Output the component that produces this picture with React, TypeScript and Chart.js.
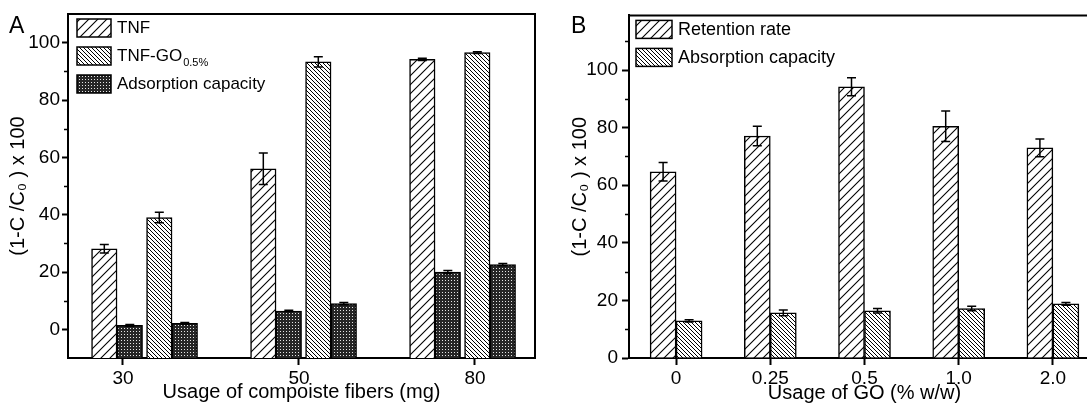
import React, { useEffect, useRef } from 'react';
import { Chart, registerables } from 'chart.js';

Chart.register(...registerables);

const FONT = "'Liberation Sans', Arial, Helvetica, 'DejaVu Sans', sans-serif";

// ---------- Panel A data ----------
const fiberUsage = ['30', '50', '80'];
const fiberIndex = [0, 1, 2];
const tnf = [28.1, 56.0, 94.2];
const tnfErr = [1.5, 5.5, 0.4];
const tnfAds = [1.4, 6.4, 20.0];
const tnfAdsErr = [0.3, 0.3, 0.5];
const tnfGo = [39.0, 93.3, 96.5];
const tnfGoErr = [1.8, 1.8, 0.3];
const tnfGoAds = [2.1, 9.0, 22.6];
const tnfGoAdsErr = [0.3, 0.4, 0.4];
const yTicksA = [0, 20, 40, 60, 80, 100];
const yMinorA = [10, 30, 50, 70, 90];
const seriesA = ['TNF', 'TNF-GO', 'Adsorption capacity'];
const seriesASub = ['', '0.5%', ''];

// ---------- Panel B data ----------
const goUsage = ['0', '0.25', '0.5', '1.0', '2.0'];
const retention = [64.7, 77.1, 94.2, 80.5, 73.0];
const retentionErr = [3.2, 3.4, 3.1, 5.3, 3.1];
const absorption = [12.9, 15.7, 16.4, 17.2, 18.8];
const absorptionErr = [0.4, 1.0, 0.8, 0.8, 0.5];
const yTicksB = [0, 20, 40, 60, 80, 100];
const yMinorB = [10, 30, 50, 70, 90, 110];
const seriesB = ['Retention rate', 'Absorption capacity'];

function makePattern(kind: string): CanvasPattern | string {
  const c = document.createElement('canvas');
  const s = kind === 'fwd' ? 9 : kind === 'back' ? 4 : 3;
  c.width = s;
  c.height = s;
  const g = c.getContext('2d');
  if (!g) return '#888';
  g.fillStyle = '#fff';
  g.fillRect(0, 0, s, s);
  if (kind === 'fwd') {
    g.strokeStyle = '#000';
    g.lineWidth = 1.1;
    g.beginPath();
    g.moveTo(-1, s + 1); g.lineTo(s + 1, -1);
    g.moveTo(-1, 1); g.lineTo(1, -1);
    g.moveTo(s - 1, s + 1); g.lineTo(s + 1, s - 1);
    g.stroke();
  } else if (kind === 'back') {
    g.strokeStyle = '#000';
    g.lineWidth = 1;
    g.beginPath();
    g.moveTo(-1, -1); g.lineTo(s + 1, s + 1);
    g.moveTo(-1, s - 1); g.lineTo(1, s + 1);
    g.moveTo(s - 1, -1); g.lineTo(s + 1, 1);
    g.stroke();
  } else {
    g.fillStyle = '#262626';
    g.fillRect(0, 0, s, s);
    g.fillStyle = '#e6e6e6';
    g.fillRect(1, 1, 1, 1);
  }
  const ctx = document.createElement('canvas').getContext('2d');
  return (ctx && ctx.createPattern(c, 'repeat')) || '#888';
}

const errorBarPlugin = {
  id: 'errorBars',
  afterDatasetsDraw(chart: any) {
    const ctx = chart.ctx;
    const yScale = chart.scales.y;
    chart.data.datasets.forEach((ds: any, i: number) => {
      const errs: number[] | undefined = ds.errors;
      if (!errs) return;
      const meta = chart.getDatasetMeta(i);
      meta.data.forEach((el: any, j: number) => {
        const raw = ds.data[j];
        const v = typeof raw === 'object' ? raw.y : raw;
        const e = errs[j];
        const yt = yScale.getPixelForValue(v + e);
        const yb = yScale.getPixelForValue(v - e);
        const x = el.x;
        const cap = 4.5;
        ctx.save();
        ctx.strokeStyle = '#000';
        ctx.lineWidth = 1.5;
        ctx.beginPath();
        ctx.moveTo(x, yt); ctx.lineTo(x, yb);
        ctx.moveTo(x - cap, yt); ctx.lineTo(x + cap, yt);
        ctx.moveTo(x - cap, yb); ctx.lineTo(x + cap, yb);
        ctx.stroke();
        ctx.restore();
      });
    });
  },
};

type LegendCfg = { items: { ds: number; text: string; sub: string }[]; dx: number; w: number; font: number };

function decoPlugin(minor: number[], legend: LegendCfg) {
  return {
    id: 'deco',
    afterDraw(chart: any) {
      const { ctx, chartArea } = chart;
      const yScale = chart.scales.y;
      ctx.save();
      ctx.strokeStyle = '#000';
      ctx.lineWidth = 2;
      ctx.beginPath();
      ctx.moveTo(chartArea.left - 1, chartArea.top);
      ctx.lineTo(chartArea.right, chartArea.top);
      ctx.lineTo(chartArea.right, chartArea.bottom + 1);
      ctx.stroke();
      ctx.lineWidth = 1.5;
      ctx.beginPath();
      minor.forEach((v) => {
        const py = Math.round(yScale.getPixelForValue(v)) + 0.5;
        ctx.moveTo(chartArea.left - 4, py);
        ctx.lineTo(chartArea.left, py);
      });
      ctx.stroke();
      legend.items.forEach((it, k) => {
        const x = chartArea.left + legend.dx;
        const y = chartArea.top + 5 + k * 28;
        ctx.fillStyle = chart.data.datasets[it.ds].backgroundColor;
        ctx.fillRect(x, y, legend.w, 18);
        ctx.lineWidth = 1.5;
        ctx.strokeRect(x, y, legend.w, 18);
        ctx.fillStyle = '#000';
        ctx.font = `${legend.font}px ${FONT}`;
        ctx.textBaseline = 'middle';
        ctx.textAlign = 'left';
        ctx.fillText(it.text, x + legend.w + 6, y + 9.5);
        if (it.sub) {
          const tw = ctx.measureText(it.text).width;
          ctx.font = `11px ${FONT}`;
          ctx.fillText(it.sub, x + legend.w + 7 + tw, y + 16);
        }
      });
      ctx.restore();
    },
  };
}

const tickFont = { family: FONT, size: 19 };
const titleFont = { family: FONT, size: 20 };

// hidden index axis for one bar series of panel A (group spacing differs from tick spacing)
const barAxis = (min: number) => ({ type: 'linear', display: false, min, max: min + 2.937, offset: false, grid: { offset: false } });

export default function App() {
  const refA = useRef<HTMLCanvasElement>(null);
  const refB = useRef<HTMLCanvasElement>(null);

  useEffect(() => {
    const fwd = makePattern('fwd');
    const back = makePattern('back');
    const dots = makePattern('dots');
    const barStyle = { borderColor: '#000', borderWidth: 1.5, barThickness: 25.5, grouped: false };

    const pts = (vals: number[]) => fiberIndex.map((x, i) => ({ x, y: vals[i] }));

    const chartA = new Chart(refA.current as HTMLCanvasElement, {
      type: 'bar',
      data: {
        datasets: [
          { label: seriesA[0], data: pts(tnf), xAxisID: 'x0', backgroundColor: fwd, errors: tnfErr, ...barStyle } as any,
          { label: seriesA[2], data: pts(tnfAds), xAxisID: 'x1', backgroundColor: dots, errors: tnfAdsErr, ...barStyle } as any,
          { label: seriesA[1], data: pts(tnfGo), xAxisID: 'x2', backgroundColor: back, errors: tnfGoErr, ...barStyle } as any,
          { label: seriesA[2], data: pts(tnfGoAds), xAxisID: 'x3', backgroundColor: dots, errors: tnfGoAdsErr, ...barStyle } as any,
        ],
      },
      options: {
        responsive: false,
        animation: false,
        layout: { padding: { left: 0, top: 14, right: 10, bottom: 0 } },
        datasets: { bar: { base: -10 } as any },
        plugins: { legend: { display: false }, tooltip: { enabled: false } },
        scales: {
          x: {
            type: 'linear',
            position: 'bottom',
            min: -0.3125,
            max: 2.341,
            offset: false,
            afterBuildTicks: (s: any) => { s.ticks = fiberIndex.map((v) => ({ value: v })); },
            afterFit: (s: any) => { s.height = 47; },
            ticks: { callback: (v: any) => fiberUsage[v as number], font: tickFont, color: '#000', padding: 2, autoSkip: false, maxRotation: 0 },
            grid: { drawOnChartArea: false, tickLength: 7, tickWidth: 2, tickColor: '#000', offset: false },
            border: { display: true, color: '#000', width: 2 },
            title: { display: true, text: 'Usage of compoiste fibers (mg)', font: titleFont, color: '#000', padding: 1 },
          } as any,
          x0: barAxis(-0.2283) as any,
          x1: barAxis(-0.3887) as any,
          x2: barAxis(-0.5742) as any,
          x3: barAxis(-0.7346) as any,
          y: {
            min: -10,
            max: 110,
            afterBuildTicks: (s: any) => { s.ticks = yTicksA.map((v) => ({ value: v })); },
            afterFit: (s: any) => { s.width = 68; },
            ticks: { font: tickFont, color: '#000', padding: 2 },
            grid: { drawOnChartArea: false, tickLength: 6, tickWidth: 2, tickColor: '#000' },
            border: { display: true, color: '#000', width: 2 },
            title: { display: true, text: '(1-C /C\u2080 ) x 100', font: titleFont, color: '#000', padding: 6 },
          } as any,
        },
      },
      plugins: [errorBarPlugin, decoPlugin(yMinorA, {
        items: [
          { ds: 0, text: seriesA[0], sub: seriesASub[0] },
          { ds: 2, text: seriesA[1], sub: seriesASub[1] },
          { ds: 1, text: seriesA[2], sub: seriesASub[2] },
        ],
        dx: 9, w: 34, font: 17,
      })],
    } as any);

    const chartB = new Chart(refB.current as HTMLCanvasElement, {
      type: 'bar',
      data: {
        labels: goUsage,
        datasets: [
          { label: seriesB[0], data: retention, backgroundColor: fwd, errors: retentionErr, borderColor: '#000', borderWidth: 1.5, barThickness: 26 } as any,
          { label: seriesB[1], data: absorption, backgroundColor: back, errors: absorptionErr, borderColor: '#000', borderWidth: 1.5, barThickness: 26 } as any,
        ],
      },
      options: {
        responsive: false,
        animation: false,
        layout: { padding: { left: 0, top: 15, right: 5, bottom: 0 } },
        plugins: { legend: { display: false }, tooltip: { enabled: false } },
        scales: {
          x: {
            offset: true,
            afterFit: (s: any) => { s.height = 47; },
            ticks: { font: tickFont, color: '#000', padding: 2, autoSkip: false, maxRotation: 0 },
            grid: { drawOnChartArea: false, tickLength: 7, tickWidth: 2, tickColor: '#000', offset: false },
            border: { display: true, color: '#000', width: 2 },
            title: { display: true, text: 'Usage of GO (% w/w)', font: titleFont, color: '#000', padding: 0 },
          } as any,
          y: {
            min: 0,
            max: 119,
            afterBuildTicks: (s: any) => { s.ticks = yTicksB.map((v) => ({ value: v })); },
            afterFit: (s: any) => { s.width = 84; },
            ticks: { font: tickFont, color: '#000', padding: 4 },
            grid: { drawOnChartArea: false, tickLength: 7, tickWidth: 2, tickColor: '#000' },
            border: { display: true, color: '#000', width: 2 },
            title: { display: true, text: '(1-C /C\u2080 ) x 100', font: titleFont, color: '#000', padding: 23 },
          } as any,
        },
      },
      plugins: [errorBarPlugin, decoPlugin(yMinorB, {
        items: [
          { ds: 0, text: seriesB[0], sub: '' },
          { ds: 1, text: seriesB[1], sub: '' },
        ],
        dx: 7, w: 36, font: 18,
      })],
    } as any);

    return () => {
      chartA.destroy();
      chartB.destroy();
    };
  }, []);

  const label = (left: number): React.CSSProperties => ({
    position: 'absolute', left, top: 14, fontFamily: FONT, fontSize: 23, lineHeight: '23px', color: '#000',
  });

  return (
    <div style={{ position: 'fixed', left: 0, top: 0, width: 1087, height: 405, overflow: 'hidden', background: '#fff' }}>
      <div style={{ position: 'absolute', left: 0, top: 0, width: 545, height: 405 }}>
        <canvas ref={refA} width={545} height={405} style={{ display: 'block', width: 545, height: 405 }} />
      </div>
      <div style={{ position: 'absolute', left: 545, top: 0, width: 560, height: 405 }}>
        <canvas ref={refB} width={560} height={405} style={{ display: 'block', width: 560, height: 405 }} />
      </div>
      <div style={label(9)}>A</div>
      <div style={label(571)}>B</div>
    </div>
  );
}
